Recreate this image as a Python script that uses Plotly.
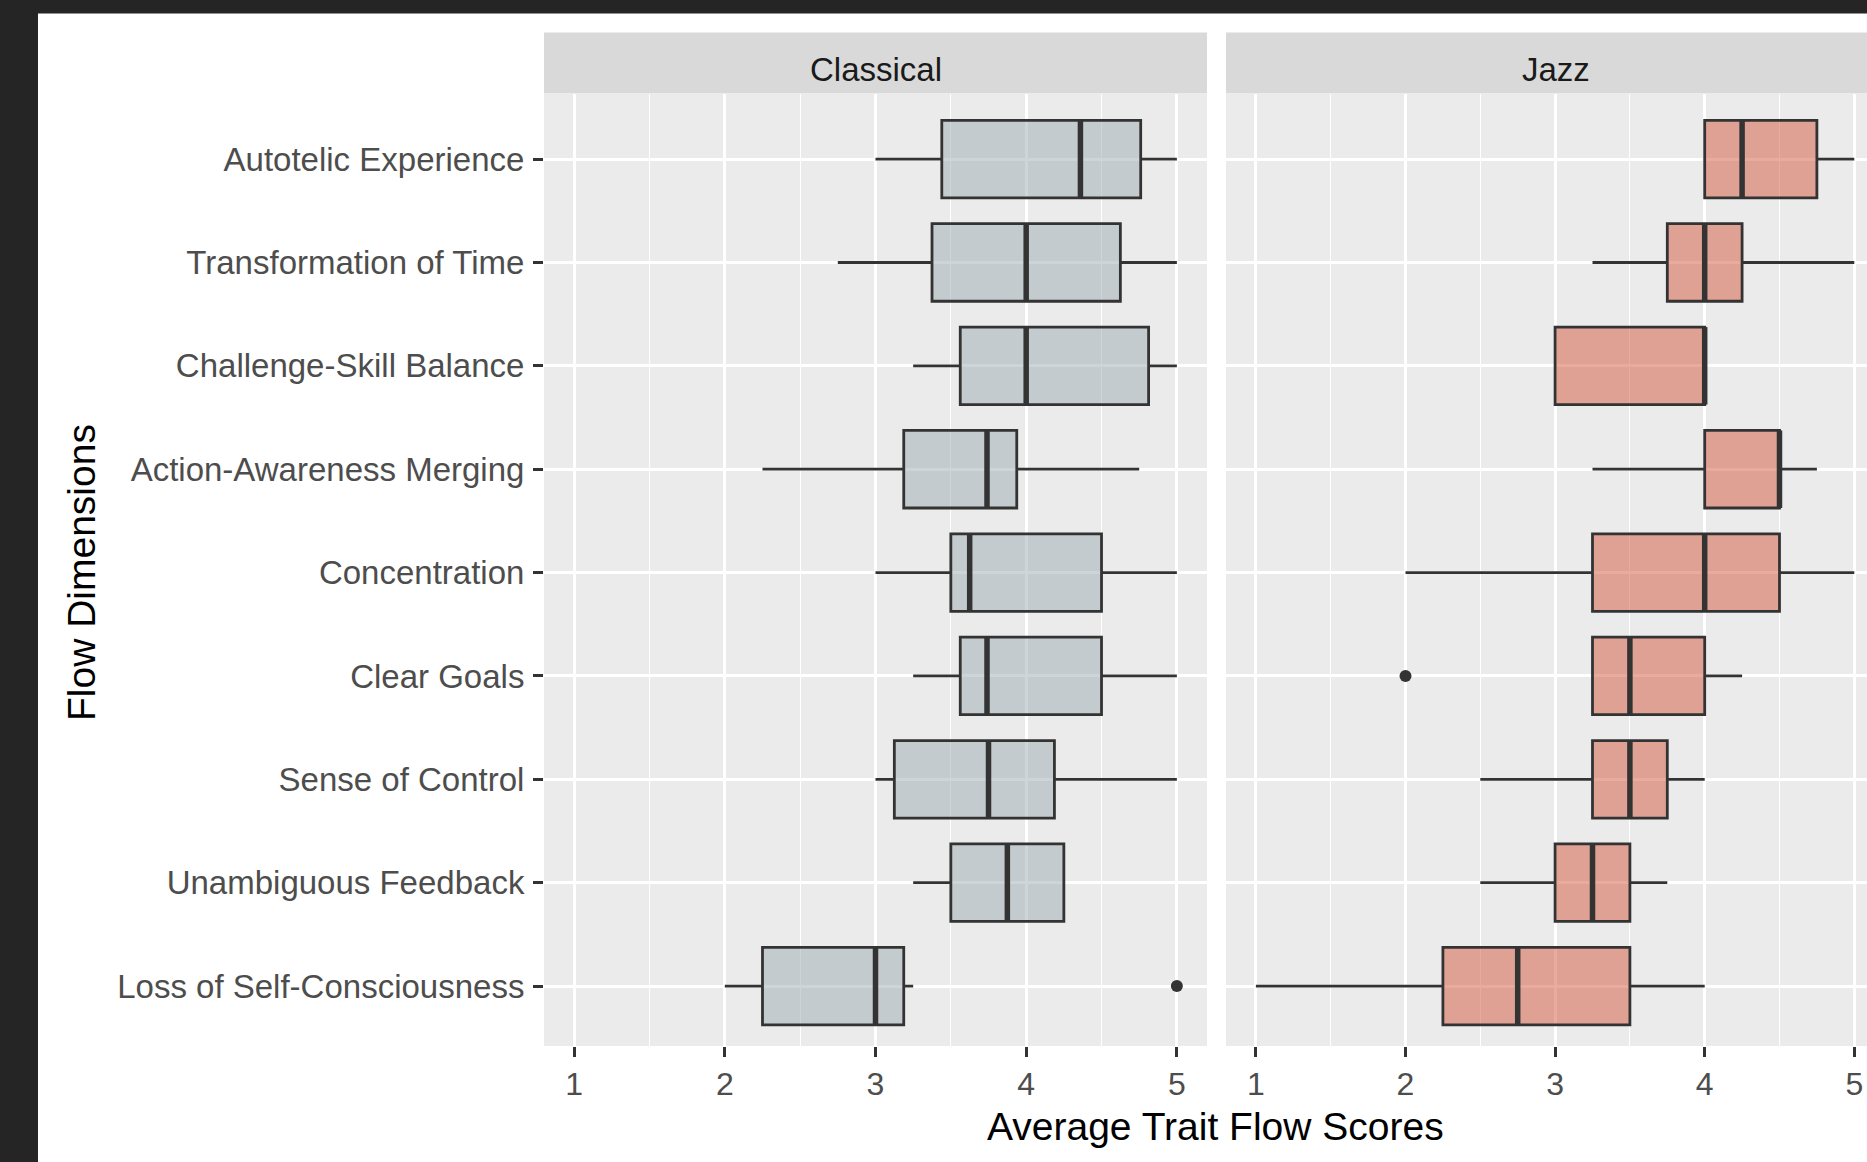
import plotly.graph_objects as go

# ---------------- data ----------------
categories = ["Autotelic Experience", "Transformation of Time", "Challenge-Skill Balance",
              "Action-Awareness Merging", "Concentration", "Clear Goals", "Sense of Control",
              "Unambiguous Feedback", "Loss of Self-Consciousness"]

facets = ["Classical", "Jazz"]

classical_lower = [3.0, 2.75, 3.25, 2.25, 3.0, 3.25, 3.0, 3.25, 2.0]
classical_q1 = [3.44, 3.375, 3.5625, 3.1875, 3.5, 3.5625, 3.125, 3.5, 2.25]
classical_median = [4.36, 4.0, 4.0, 3.74, 3.625, 3.74, 3.75, 3.875, 3.0]
classical_q3 = [4.76, 4.625, 4.8125, 3.9375, 4.5, 4.5, 4.1875, 4.25, 3.1875]
classical_upper = [5.0, 5.0, 5.0, 4.75, 5.0, 5.0, 5.0, 4.25, 3.25]
classical_outlier_cat = ["Loss of Self-Consciousness"]
classical_outlier_val = [5.0]

jazz_lower = [4.0, 3.25, 3.0, 3.25, 2.0, 3.25, 2.5, 2.5, 1.0]
jazz_q1 = [4.0, 3.75, 3.0, 4.0, 3.25, 3.25, 3.25, 3.0, 2.25]
jazz_median = [4.25, 4.0, 4.0, 4.5, 4.0, 3.5, 3.5, 3.25, 2.75]
jazz_q3 = [4.75, 4.25, 4.0, 4.5, 4.5, 4.0, 3.75, 3.5, 3.5]
jazz_upper = [5.0, 5.0, 4.0, 4.75, 5.0, 4.25, 4.0, 3.75, 4.0]
jazz_outlier_cat = ["Clear Goals"]
jazz_outlier_val = [2.0]

x_ticks = [1, 2, 3, 4, 5]

# ---------------- styling ----------------
W, H = 1867, 1162
FONT = "Liberation Sans, Arial, sans-serif"
fills = {"Classical": "rgba(157,171,179,0.5)", "Jazz": "rgba(211,87,61,0.5)"}
LINE = "#333333"
BOX_W = 0.75


def px_x(v):
    return v / W


def px_y(v):  # v measured from top
    return (H - v) / H


pos = list(range(len(categories)))
cat_index = {c: i for i, c in enumerate(categories)}

fig = go.Figure()

series = {
    "Classical": (classical_lower, classical_q1, classical_median, classical_q3, classical_upper,
                  classical_outlier_cat, classical_outlier_val, "x"),
    "Jazz": (jazz_lower, jazz_q1, jazz_median, jazz_q3, jazz_upper,
             jazz_outlier_cat, jazz_outlier_val, "x2"),
}

for name in facets:
    lo, q1, med, q3, up, ocat, oval, xa = series[name]
    fig.add_trace(go.Box(
        y=pos, q1=q1, median=med, q3=q3, lowerfence=lo, upperfence=up,
        orientation="h", width=BOX_W, whiskerwidth=0, boxpoints=False,
        fillcolor=fills[name], line=dict(color=LINE, width=2.8),
        xaxis=xa, yaxis="y", showlegend=False, hoverinfo="skip", name=name,
    ))
    mx, my = [], []
    for i, m in zip(pos, med):
        mx += [m, m, None]
        my += [i - BOX_W / 2, i + BOX_W / 2, None]
    fig.add_trace(go.Scatter(
        x=mx, y=my, mode="lines", line=dict(color=LINE, width=5.5),
        xaxis=xa, yaxis="y", showlegend=False, hoverinfo="skip",
    ))
    fig.add_trace(go.Scatter(
        x=oval, y=[cat_index[c] for c in ocat], mode="markers",
        marker=dict(color=LINE, size=12),
        xaxis=xa, yaxis="y", showlegend=False, hoverinfo="skip",
    ))

xcommon = dict(
    tickvals=x_ticks, ticktext=[str(t) for t in x_ticks],
    showgrid=True, gridcolor="white", gridwidth=2.6,
    minor=dict(dtick=0.5, tick0=0.5, showgrid=True, gridcolor="white", gridwidth=1.4, ticks=""),
    zeroline=False, showline=False,
    ticks="outside", ticklen=10, tickwidth=2.5, tickcolor=LINE,
    tickfont=dict(family=FONT, size=32, color="#4D4D4D"),
    automargin=False, fixedrange=True,
)

dom_y = [px_y(1046), px_y(94)]

fig.update_layout(
    width=W, height=H, template="none",
    margin=dict(l=0, r=0, t=0, b=0),
    paper_bgcolor="white", plot_bgcolor="#EBEBEB",
    font=dict(family=FONT),
    showlegend=False,
    xaxis=dict(domain=[px_x(544), px_x(1207)], range=[0.8, 5.2], anchor="y", **xcommon),
    xaxis2=dict(domain=[px_x(1226), 1.0], range=[0.8, 5.085], anchor="y", **xcommon),
    yaxis=dict(
        domain=dom_y, range=[8.58, -0.63], anchor="x",
        tickvals=pos, ticktext=categories,
        showgrid=True, gridcolor="white", gridwidth=2.6,
        zeroline=False, showline=False,
        ticks="outside", ticklen=10, tickwidth=2.5, tickcolor=LINE,
        tickfont=dict(family=FONT, size=33, color="#4D4D4D"),
        ticklabelstandoff=2,
        automargin=False, fixedrange=True,
    ),
)

shapes = [
    # dark frame (left and top)
    dict(type="rect", xref="paper", yref="paper", x0=0, x1=px_x(38), y0=0, y1=1,
         fillcolor="#252525", line=dict(width=0), layer="above"),
    dict(type="rect", xref="paper", yref="paper", x0=0, x1=1, y0=px_y(13.5), y1=1,
         fillcolor="#252525", line=dict(width=0), layer="above"),
    # strips
    dict(type="rect", xref="paper", yref="paper", x0=px_x(544), x1=px_x(1207),
         y0=px_y(93.5), y1=px_y(32.5), fillcolor="#D9D9D9", line=dict(width=0)),
    dict(type="rect", xref="paper", yref="paper", x0=px_x(1226), x1=1.0,
         y0=px_y(93.5), y1=px_y(32.5), fillcolor="#D9D9D9", line=dict(width=0)),
]
fig.update_layout(shapes=shapes)

annotations = [
    dict(text="Classical", x=px_x(875.5), y=px_y(69), xref="paper", yref="paper",
         showarrow=False, xanchor="center", yanchor="middle",
         font=dict(family=FONT, size=33, color="#1A1A1A")),
    dict(text="Jazz", x=px_x(1556), y=px_y(69), xref="paper", yref="paper",
         showarrow=False, xanchor="center", yanchor="middle",
         font=dict(family=FONT, size=33, color="#1A1A1A")),
    dict(text="Average Trait Flow Scores", x=px_x(1215), y=px_y(1126), xref="paper", yref="paper",
         showarrow=False, xanchor="center", yanchor="middle",
         font=dict(family=FONT, size=39, color="black")),
    dict(text="Flow Dimensions", x=px_x(81), y=px_y(573), xref="paper", yref="paper",
         showarrow=False, xanchor="center", yanchor="middle", textangle=-90,
         font=dict(family=FONT, size=39, color="black")),
]
fig.update_layout(annotations=annotations)

fig.write_html(
    "out.html",
    config={"displayModeBar": False},
    post_script="document.body.style.margin='0';document.body.style.overflow='hidden';",
)
